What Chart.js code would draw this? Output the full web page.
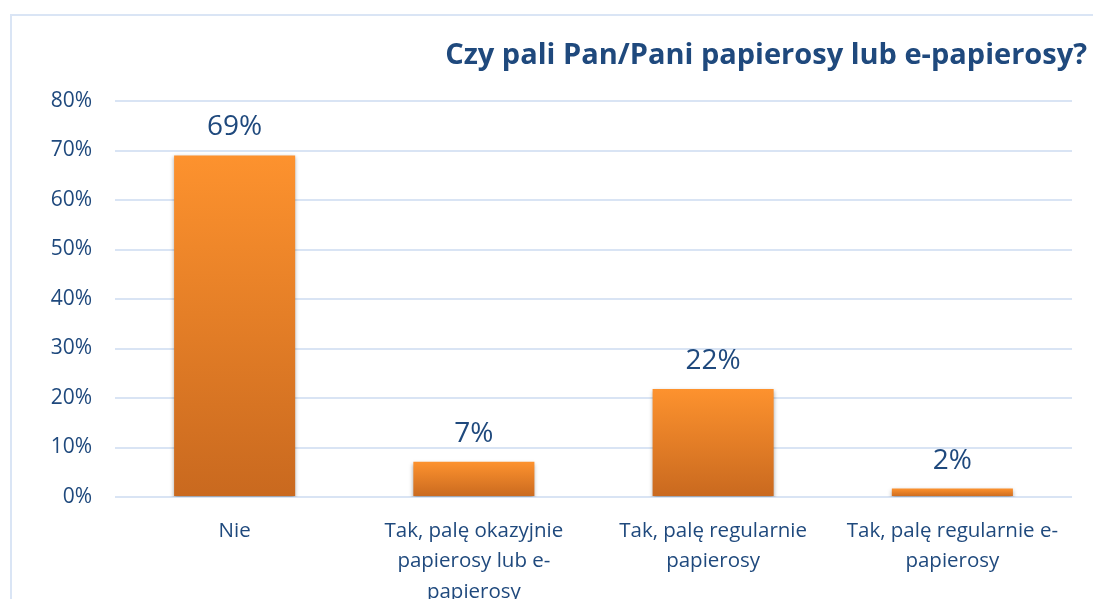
<!DOCTYPE html>
<html>
<head>
<meta charset="utf-8">
<script src="https://cdn.jsdelivr.net/npm/chart.js@4/dist/chart.umd.min.js"></script>
<style>
  html, body { margin: 0; padding: 0; background: #fff; }
  #wrap { width: 1093px; height: 599px; position: relative; }
</style>
</head>
<body>
<div id="wrap"><canvas id="chart"></canvas></div>
<script>
const categories = [
    ['Nie'],
    ['Tak, palę okazyjnie', 'papierosy lub e-', 'papierosy'],
    ['Tak, palę regularnie', 'papierosy'],
    ['Tak, palę regularnie e-', 'papierosy']
];
const values = [69, 7.1, 21.8, 1.7];
const tickValues = [0, 10, 20, 30, 40, 50, 60, 70, 80];
const title = 'Czy pali Pan/Pani papierosy lub e-papierosy?';

const textColor = '#1f497d';
const gridColor = '#d9e4f4';
const font = "'Open Sans', sans-serif";

// ramka, tytuł, cień słupków i etykiety wartości
const extras = {
    id: 'extras',
    beforeDraw(c) {
        const ctx = c.ctx;
        ctx.save();
        ctx.strokeStyle = '#dae5f5';
        ctx.lineWidth = 2;
        ctx.beginPath();
        ctx.moveTo(11, c.height);
        ctx.lineTo(11, 15);
        ctx.lineTo(c.width, 15);
        ctx.stroke();
        ctx.fillStyle = textColor;
        ctx.font = "bold 29px " + font;
        ctx.textAlign = 'right';
        ctx.textBaseline = 'alphabetic';
        ctx.fillText(title, 1087, 64);
        ctx.restore();
    },
    beforeDatasetsDraw(c) {
        const ctx = c.ctx;
        ctx.save();
        ctx.shadowColor = 'rgba(0,0,0,0.35)';
        ctx.shadowBlur = 4;
        ctx.shadowOffsetY = 2;
    },
    afterDatasetsDraw(c) {
        const ctx = c.ctx;
        ctx.restore();
        ctx.save();
        ctx.fillStyle = textColor;
        ctx.font = "28px " + font;
        ctx.textAlign = 'center';
        ctx.textBaseline = 'middle';
        c.getDatasetMeta(0).data.forEach((bar, i) => {
            ctx.fillText(Math.round(values[i]) + '%', bar.x, bar.y - 28);
        });
        ctx.restore();
    }
};

new Chart(document.querySelector('#chart'), {
    type: 'bar',
    data: {
        labels: categories,
        datasets: [{
            data: values,
            backgroundColor: (context) => {
                const c = context.chart;
                if (!c.chartArea) return '#f7902c';
                const y = c.scales.y;
                const top = y.getPixelForValue(values[context.dataIndex]);
                const bottom = y.getPixelForValue(0);
                const g = c.ctx.createLinearGradient(0, top, 0, bottom);
                g.addColorStop(0, '#fd922e');
                g.addColorStop(1, '#c9691f');
                return g;
            },
            borderWidth: 0,
            barPercentage: 0.506,
            categoryPercentage: 1
        }]
    },
    options: {
        responsive: true,
        maintainAspectRatio: false,
        animation: false,
        layout: { padding: { top: 101, right: 21, left: 0, bottom: 0 } },
        plugins: {
            legend: { display: false },
            tooltip: { enabled: false }
        },
        scales: {
            x: {
                grid: { display: false },
                border: { display: false },
                afterFit: (s) => { s.height = 102; },
                ticks: {
                    color: textColor,
                    font: { family: font, size: 20.5, lineHeight: 1.48 },
                    padding: 11,
                    maxRotation: 0,
                    autoSkip: false
                }
            },
            y: {
                min: 0,
                max: 80,
                afterFit: (s) => { s.width = 115; },
                afterBuildTicks: (s) => { s.ticks = tickValues.map(v => ({ value: v })); },
                grid: { color: gridColor, lineWidth: 2, drawTicks: false },
                border: { display: false },
                ticks: {
                    color: textColor,
                    font: { family: font, size: 21 },
                    padding: 23,
                    callback: (v) => v + '%'
                }
            }
        }
    },
    plugins: [extras]
});
</script>
</body>
</html>
